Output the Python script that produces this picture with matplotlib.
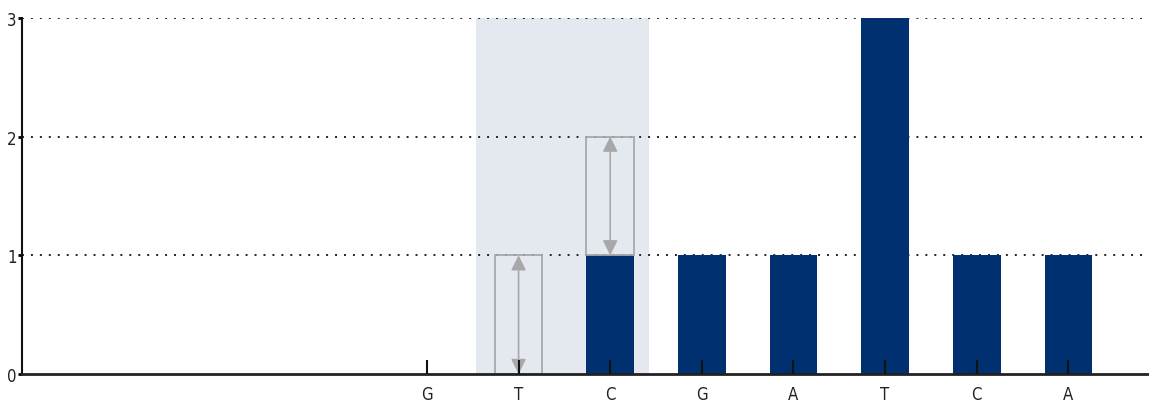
import matplotlib
matplotlib.use('Agg')
from matplotlib import pyplot as plt

# bases along the sequence and observed counts
bases = ['G', 'T', 'C', 'G', 'A', 'T', 'C', 'A']
counts = [0, 0, 1, 1, 1, 3, 1, 1]

# ghost (expected) boxes: position index, bottom, top
ghost_pos = [1, 2]
ghost_bottom = [0, 1]
ghost_top = [1, 2]

# highlighted window (position indices)
window = [1, 2]

bar_color = '#00306f'
shade_color = '#e4e9f0'
ghost_color = '#a8a8a8'

fig = plt.figure(figsize=(11.49, 4.10), dpi=100)
ax = fig.add_axes([0.0191, 0.0854, 0.9809, 0.8683])

x = list(range(len(bases)))
width = 0.52

ax.axvspan(window[0] - 0.47, window[1] + 0.42, color=shade_color, zorder=0, lw=0)

for yv in [1, 2, 3]:
  ax.axhline(yv, color='#222222', linestyle=(0, (1, 3.6)), linewidth=1.4, zorder=1)

ax.bar(x, counts, width=width, color=bar_color, zorder=2)

for i in range(len(ghost_pos)):
  p = ghost_pos[i]
  b = ghost_bottom[i]
  t = ghost_top[i]
  ax.bar(p, t - b, bottom=b, width=width, fill=False, edgecolor=ghost_color, linewidth=1.3, zorder=3)
  ax.annotate('', xy=(p, t), xytext=(p, b),
              arrowprops=dict(arrowstyle='<|-|>,head_length=0.9,head_width=0.45',
                              color=ghost_color, lw=1.2, shrinkA=0, shrinkB=0),
              zorder=4)

ax.set_xlim(-4.42, 7.88)
ax.set_ylim(0, 3)
ax.set_xticks(x)
ax.set_xticklabels(bases)
ax.set_yticks([0, 1, 2, 3])

for side in ['top', 'right']:
  ax.spines[side].set_visible(False)
ax.spines['bottom'].set_linewidth(2)
ax.spines['bottom'].set_color('#222222')
ax.spines['left'].set_linewidth(1.5)
ax.spines['left'].set_color('#111111')
ax.spines['bottom'].set_zorder(5)
ax.xaxis.set_zorder(5)

ax.tick_params(axis='x', direction='in', length=10, width=1.5, pad=8, color='#111111')
ax.tick_params(axis='y', direction='out', length=3, width=2, pad=1)
for lab in ax.get_xticklabels() + ax.get_yticklabels():
  lab.set_fontsize(12)
  lab.set_fontstretch('condensed')
  lab.set_color('#222222')

ax.set_facecolor('white')
plt.savefig('out.png', dpi=100)
